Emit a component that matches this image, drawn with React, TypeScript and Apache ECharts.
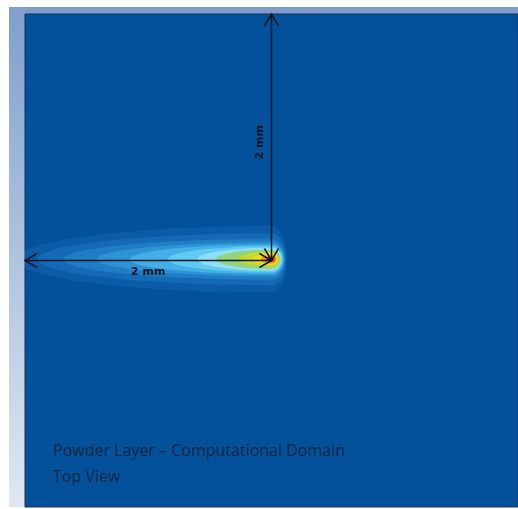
import React, { useEffect, useRef } from "react";
import * as echarts from "echarts";

// Computational domain (mm)
const domainX = [0, 4];
const domainY = [0, 4];

// Laser spot / melt-pool centre (mm)
const plumeCenter = [2.0, 2.01];

// Temperature contour bands, outermost to innermost (mm)
const levelTail = [2.08, 1.9, 1.69, 1.42, 1.15, 0.84, 0.6, 0.45, 0.27, 0.15, 0.085, 0.045];
const levelFront = [0.126, 0.118, 0.11, 0.104, 0.097, 0.09, 0.082, 0.072, 0.062, 0.051, 0.04, 0.028];
const levelHalfWidth = [0.27, 0.21, 0.165, 0.137, 0.12, 0.106, 0.093, 0.078, 0.062, 0.048, 0.035, 0.022];
const levelColors = [
  "#0b5ba6",
  "#156ab5",
  "#207dc4",
  "#2e93d4",
  "#42b0e6",
  "#60caf1",
  "#90e0f5",
  "#96d47a",
  "#c5da2e",
  "#f0dc14",
  "#f5961a",
  "#e4321e",
];

// Dimension arrows (mm)
const arrowStartX = [0, 2];
const arrowStartY = [2, 4];
const arrowEndX = [2, 2];
const arrowEndY = [2, 2];
const arrowLabels = ["2 mm", "2 mm"];

const titleLines = ["Powder Layer \u2013 Computational Domain", "Top View"];

export default function App() {
  const ref = useRef<HTMLDivElement>(null);

  useEffect(() => {
    document.body.style.margin = "0";
    const chart = echarts.init(ref.current!, undefined, { renderer: "svg" });

    const plumeData = levelTail.map((t, i) => [plumeCenter[0], plumeCenter[1], t, levelFront[i], levelHalfWidth[i], i]);
    const arrowData = arrowStartX.map((x, i) => [x, arrowStartY[i], arrowEndX[i], arrowEndY[i], i]);

    const option: any = {
      animation: false,
      backgroundColor: "#ffffff",
      title: {
        text: titleLines.join("\n"),
        left: 48,
        top: 432,
        textStyle: {
          fontFamily: "'Open Sans', Lato, sans-serif",
          fontSize: 16,
          fontWeight: "normal",
          color: "#0d2646",
          lineHeight: 26,
        },
      },
      graphic: [
        { type: "rect", z: -10, shape: { x: 9, y: 7, width: 509, height: 7 }, style: { fill: "#7d9dcd" } },
        {
          type: "rect",
          z: -10,
          shape: { x: 9, y: 7, width: 16, height: 500 },
          style: {
            fill: new echarts.graphic.LinearGradient(0, 0, 0, 1, [
              { offset: 0, color: "#7f9fcf" },
              { offset: 1, color: "#e0e7f2" },
            ]),
          },
        },
      ],
      grid: {
        left: 25,
        top: 14,
        width: 493,
        height: 493,
        show: true,
        backgroundColor: "#04519b",
        borderColor: "#1a3150",
        borderWidth: 1,
      },
      xAxis: { type: "value", min: domainX[0], max: domainX[1], show: false },
      yAxis: { type: "value", min: domainY[0], max: domainY[1], show: false },
      series: [
        {
          type: "custom",
          clip: true,
          data: plumeData,
          renderItem: (params: any, api: any) => {
            const c = api.coord([api.value(0), api.value(1)]);
            const tail = api.size([api.value(2), 0])[0];
            const front = api.size([api.value(3), 0])[0];
            const hw = api.size([0, api.value(4)])[1];
            const idx = api.value(5);
            const pts: number[][] = [];
            const n = 40;
            for (let k = 0; k <= n; k++) {
              const a = -Math.PI / 2 + (Math.PI * k) / n;
              pts.push([c[0] + front * Math.cos(a), c[1] + hw * Math.sin(a)]);
            }
            for (let k = 1; k < n; k++) {
              const a = Math.PI / 2 + (Math.PI * k) / n;
              pts.push([c[0] + tail * Math.cos(a), c[1] + hw * Math.sin(a)]);
            }
            return {
              type: "polygon",
              shape: { points: pts, smooth: 0 },
              style: { fill: levelColors[idx] },
            };
          },
        },
        {
          type: "custom",
          clip: false,
          data: arrowData,
          z: 5,
          renderItem: (params: any, api: any) => {
            const p1 = api.coord([api.value(0), api.value(1)]);
            const p2 = api.coord([api.value(2), api.value(3)]);
            const idx = api.value(4);
            const dx = p2[0] - p1[0];
            const dy = p2[1] - p1[1];
            const len = Math.sqrt(dx * dx + dy * dy);
            const ux = dx / len;
            const uy = dy / len;
            const L = 12;
            const W = 7;
            const head = (p: number[], sx: number, sy: number) => [
              [p[0] + sx * L - uy * W, p[1] + sy * L + ux * W],
              [p[0], p[1]],
              [p[0] + sx * L + uy * W, p[1] + sy * L - ux * W],
            ];
            const stroke = { stroke: "#0b1626", lineWidth: 1.5, fill: null };
            const mid = [(p1[0] + p2[0]) / 2, (p1[1] + p2[1]) / 2];
            const horizontal = Math.abs(dx) > Math.abs(dy);
            const textStyle = {
              text: arrowLabels[idx],
              fill: "#0b1626",
              font: "bold 11px 'DejaVu Sans', sans-serif",
              align: "center",
              verticalAlign: "middle",
            };
            const label = horizontal
              ? { type: "text", x: mid[0], y: mid[1] + 11, style: textStyle }
              : { type: "text", x: mid[0] - 12, y: mid[1] + 5, rotation: Math.PI / 2, style: textStyle };
            return {
              type: "group",
              children: [
                { type: "line", shape: { x1: p1[0], y1: p1[1], x2: p2[0], y2: p2[1] }, style: stroke },
                { type: "polyline", shape: { points: head(p1, ux, uy) }, style: stroke },
                { type: "polyline", shape: { points: head(p2, -ux, -uy) }, style: stroke },
                label,
              ],
            };
          },
        },
      ],
    };

    chart.setOption(option);
    return () => chart.dispose();
  }, []);

  return <div ref={ref} style={{ width: 518, height: 509 }} />;
}
